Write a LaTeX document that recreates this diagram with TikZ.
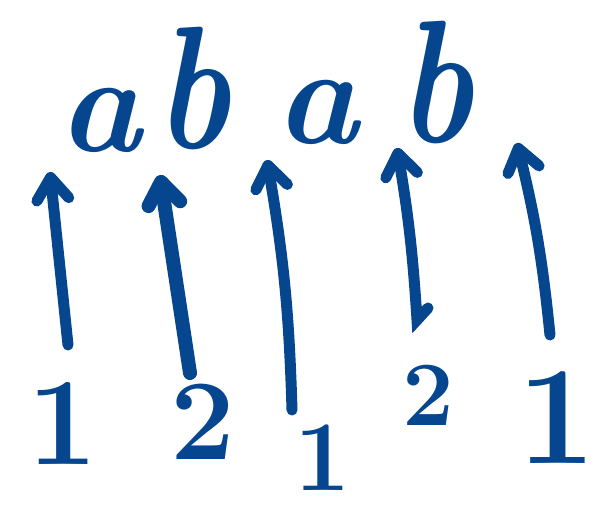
\documentclass[tikz,border=0pt]{standalone}
\usepackage{fontspec}
\usetikzlibrary{arrows.meta}
\definecolor{ink}{HTML}{05468F}

\begin{document}
\begin{tikzpicture}[x=1pt,y=-1pt,ink,
    letter/.style={font=\fontsize{140}{140}\selectfont\bfseries\itshape,inner sep=0pt},
    digit/.style={font=\fontsize{#1}{#1}\selectfont\bfseries,inner sep=0pt},
    up/.style={line width=11pt,line cap=round,
      -{Straight Barb[length=22pt,width=32pt,round]}}]
  \useasboundingbox (0,0) rectangle (600,510);
  % the word on top
  \node[letter] (a1) at (100,120) {a};
  \node[letter,yscale=1.25] (b1) at (193,88) {b};
  \node[letter] (a2) at (317,112) {a};
  \node[letter,yscale=1.25] (b2) at (436,82) {b};
  % the numbers below
  \node[digit=125] (n1) at (63,424) {1};
  \node[digit=115] (n2) at (203,422) {2};
  \node[digit=100] (n3) at (323,458) {1};
  \node[digit=92] (n4) at (428,395) {2};
  \node[digit=140] (n5) at (557,418) {1};
  % arrow ends
  \coordinate (t1) at (68,345);  \coordinate (h1) at (50,172);
  \coordinate (t2) at (190,373); \coordinate (h2) at (160,175);
  \coordinate (t3) at (292,410); \coordinate (h3) at (267,160);
  \coordinate (k4) at (428,308); \coordinate (t4) at (417,320); \coordinate (h4) at (397,148);
  \coordinate (t5) at (550,335); \coordinate (h5) at (517,143);
  \draw[up] (t1) -- (h1);
  \draw[up,line width=14pt] (t2) -- (h2);
  \draw[up] (t3) to[bend right=4] (h3);
  \draw[up] (k4) -- (t4) to[bend right=3] (h4);
  \draw[up] (t5) to[bend right=4] (h5);
\end{tikzpicture}
\end{document}
